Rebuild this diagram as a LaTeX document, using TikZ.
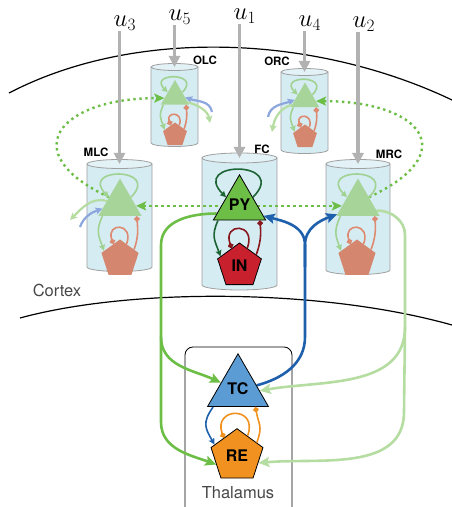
\documentclass[tikz,border=0pt]{standalone}
\usepackage[no-math]{fontspec}
\newfontfamily\hel{TeX Gyre Heros}
\usetikzlibrary{shapes.geometric, arrows.meta, calc, positioning}
\usepackage{xcolor}
\definecolor{colFill}{RGB}{214,236,243}
\definecolor{colTop}{RGB}{226,242,247}
\definecolor{inGray}{RGB}{178,178,178}
\definecolor{pyGreen}{RGB}{108,190,70}
\definecolor{pyLight}{RGB}{166,212,153}
\definecolor{lineLight}{RGB}{181,221,162}
\definecolor{loopLight}{RGB}{160,210,145}
\definecolor{inSalmon}{RGB}{213,134,110}
\definecolor{loopSalmon}{RGB}{222,138,112}
\definecolor{inRed}{RGB}{200,32,45}
\definecolor{darkRed}{RGB}{135,25,30}
\definecolor{darkGreen}{RGB}{28,100,52}
\definecolor{tcBlue}{RGB}{92,156,212}
\definecolor{lineBlue}{RGB}{30,96,172}
\definecolor{extBlue}{RGB}{140,166,222}
\definecolor{reOrange}{RGB}{240,145,32}
\pgfdeclarelayer{bg}
\pgfdeclarelayer{wires}
\pgfsetlayers{bg,wires,main}
\tikzset{
  tipG/.tip={Stealth[length=10pt, width=9pt, inset=2pt]},
  col/.style={draw=gray!75, line width=0.8pt, fill=colFill},
  pyN/.style={regular polygon, regular polygon sides=3, inner sep=0pt,
    font=\hel\bfseries\fontsize{16}{16}\selectfont},
  inN/.style={regular polygon, regular polygon sides=5, inner sep=0pt,
    font=\hel\bfseries\fontsize{16}{16}\selectfont},
  pyD/.style={pyN, draw=black, line width=0.8pt, fill=pyGreen, minimum size=55.4pt},
  inD/.style={inN, draw=black, line width=0.8pt, fill=inRed, minimum size=46pt},
  pyL/.style={pyN, fill=pyLight, minimum size=50pt},
  inL/.style={inN, fill=inSalmon, minimum size=39pt},
  tcN/.style={pyN, draw=black, line width=0.8pt, fill=tcBlue, minimum size=70.4pt},
  reN/.style={inN, draw=black, line width=0.8pt, fill=reOrange, minimum size=54.6pt},
  collab/.style={font=\hel\bfseries\fontsize{11.5}{12}\selectfont},
  regLab/.style={font=\hel\fontsize{16.5}{18}\selectfont, text=black!72},
  ulab/.style={font=\fontsize{25}{27}\selectfont, inner sep=0.5pt, anchor=base west},
  arrIn/.style={-{Triangle[length=11pt, width=11pt]}, draw=inGray, line width=3.2pt},
  big/.style={-{Stealth[length=11pt, width=10pt, inset=2pt]}, line width=2.6pt},
  arrG/.style={big, draw=pyGreen},
  arrLG/.style={big, draw=lineLight},
  arrB/.style={big, draw=lineBlue},
  dotG/.style={draw=pyGreen, line width=2.4pt, dash pattern=on 2.4pt off 3.6pt},
  small/.style={-{Stealth[length=6pt, width=6pt, inset=1pt]}, line width=1.6pt},
  dot/.style={-{Circle[length=5.5pt]}, line width=1.6pt},
  loopDG/.style={small, draw=darkGreen},
  loopLG/.style={small, draw=loopLight},
  loopB/.style={small, draw=lineBlue},
  loopDR/.style={dot, draw=darkRed},
  loopS/.style={dot, draw=loopSalmon},
  loopO/.style={dot, draw=reOrange},
  extB/.style={-{Stealth[length=7pt, width=7pt, inset=1.5pt]}, line width=2.2pt, draw=extBlue},
  extG/.style={-{Stealth[length=7pt, width=7pt, inset=1.5pt]}, line width=2.2pt, draw=lineLight},
}
% cylinder of a cortical column: x, top, bottom, half width, depth
\newcommand{\drawcol}[5]{%
  \draw[col] (#1-#4,#2) -- (#1-#4,#3)
    arc[start angle=180, end angle=360, x radius=#4, y radius=#5] -- (#1+#4,#2);
  \draw[col, fill=colTop] (#1,#2) ellipse[x radius=#4, y radius=#5];
}

\begin{document}
\begin{tikzpicture}[x=1pt, y=1pt]
  \useasboundingbox (0,0) rectangle (452,507);

  \begin{pgfonlayer}{bg}
    % cortex boundaries
    \draw[line width=1.2pt] (9,414) .. controls (140,482) and (320,470) .. (452,407);
    \draw[line width=1.2pt] (20,189) .. controls (130,219) and (320,219) .. (452,182);
    % thalamus box
    \draw[line width=0.8pt, rounded corners=8pt] (185,-5) -- (185,160) -- (292,160) -- (292,-5);
    % columns
    \drawcol{119.5}{343}{240}{32.5}{4.5}
    \drawcol{239.5}{349}{222}{37.5}{5}
    \drawcol{358}{343}{237}{32}{4.5}
    \drawcol{174.5}{440}{364}{23.5}{3.5}
    \drawcol{304.5}{435}{357}{23.5}{3.5}
  \end{pgfonlayer}

  \node[regLab] (ctx) at (57,217) {Cortex};
  \node[regLab] (thal) at (238,14) {Thalamus};

  % column labels
  \node[collab] (mlcLab) at (96,355) {MLC};
  \node[collab] (olcLab) at (205,447) {OLC};
  \node[collab] (fcLab) at (262,358) {FC};
  \node[collab] (orcLab) at (277,446) {ORC};
  \node[collab] (mrcLab) at (389,353) {MRC};

  % inputs
  \coordinate (mlcTop) at (119.5,343);
  \coordinate (olcTop) at (174.5,440);
  \coordinate (fcTop) at (239.5,349);
  \coordinate (orcTop) at (304.5,435);
  \coordinate (mrcTop) at (358,343);
  \node[ulab] (u3) at (113,480) {$u_3$};
  \node[ulab] (u5) at (168,486) {$u_5$};
  \node[ulab] (u1) at (233,487) {$u_1$};
  \node[ulab] (u4) at (298,480) {$u_4$};
  \node[ulab] (u2) at (352,479) {$u_2$};
  \draw[arrIn] (mlcTop |- u3.south) -- (mlcTop);
  \draw[arrIn] (olcTop |- u5.south) -- (olcTop);
  \draw[arrIn] (fcTop |- u1.south) -- (fcTop);
  \draw[arrIn] (orcTop |- u4.south) -- (orcTop);
  \draw[arrIn] (mrcTop |- u2.south) -- (mrcTop);

  % neurons
  \node[pyD] (fcPY) at (239.5,302) {PY};
  \node[inD] (fcIN) at (239.5,241) {IN};
  \node[pyL] (mlcPY) at (120,303.5) {};
  \node[inL] (mlcIN) at (120,248) {};
  \node[pyL] (mrcPY) at (358,303.5) {};
  \node[inL] (mrcIN) at (357,248) {};
  \node[pyL, minimum size=33pt] (olcPY) at (175,410.5) {};
  \node[inL, minimum size=25pt] (olcIN) at (175,372) {};
  \node[pyL, minimum size=33pt] (orcPY) at (305,408) {};
  \node[inL, minimum size=25pt] (orcIN) at (305,370) {};
  \node[tcN] (tc) at (238,118) {TC};
  \node[reN] (re) at (237,51) {RE};

  \begin{pgfonlayer}{wires}
    % cortico-cortical
    \draw[dotG, {tipG}-{tipG}] ($(mlcPY.corner 3)!0.27!(mlcPY.corner 1)$)
      -- ($(mrcPY.corner 2)!0.27!(mrcPY.corner 1)$);
    \draw[dotG, -{tipG}] (mlcPY.side 1) .. controls +(155:105) and +(180:105)
      .. ($(olcPY.corner 2)!0.27!(olcPY.corner 1)$);
    \draw[dotG, -{tipG}] (mrcPY.side 3) .. controls +(25:105) and +(0:105)
      .. ($(orcPY.corner 3)!0.25!(orcPY.corner 1)$);
    % cortex to thalamus
    \coordinate (gSplit) at (161,170);
    \draw[arrG] ($(fcPY.corner 2)!0.15!(fcPY.corner 1)$) to[out=180, in=90] (161,262)
      -- (gSplit) to[out=-90, in=155] ($(tc.corner 2)!0.45!(tc.corner 1)$);
    \draw[arrG] (gSplit) -- (161,85) to[out=-90, in=160] ($(re.corner 2)!0.55!(re.corner 3)$);
    \coordinate (lgSplit) at (405,180);
    \draw[arrLG] ($(mrcPY.corner 3)!0.15!(mrcPY.corner 1)$) to[out=0, in=90] (405,272)
      -- (lgSplit) to[out=-90, in=10] ($(tc.corner 3)!0.3!(tc.corner 1)$);
    \draw[arrLG] (lgSplit) -- (404,95) to[out=-90, in=5] ($(re.corner 5)!0.5!(re.corner 4)$);
    % thalamus to cortex
    \coordinate (bSplit) at (305,240);
    \draw[arrB] ($(tc.corner 3)!0.4!(tc.corner 1)$) to[out=15, in=-90] (305,170)
      -- (305,262) to[out=90, in=-15] ($(fcPY.corner 3)!0.1!(fcPY.corner 1)$);
    \draw[arrB] (bSplit) -- (305,262) to[out=90, in=200] ($(mrcPY.corner 2)!0.05!(mrcPY.corner 1)$);
  \end{pgfonlayer}

  % FC circuit
  \draw[loopDG] (fcPY.side 3) to[out=45, in=135, looseness=5] (fcPY.side 1);
  \draw[loopDG] ($(fcPY.corner 2)!0.1!(fcPY.corner 3)$) to[out=-115, in=110, looseness=1.2]
    ($(fcIN.corner 2)!0.15!(fcIN.corner 1)$);
  \draw[loopDR] ($(fcIN.corner 1)!0.35!(fcIN.corner 5)$) to[out=70, in=110, looseness=4.5]
    ($(fcIN.corner 1)!0.35!(fcIN.corner 2)$);
  \draw[loopDR] ($(fcIN.corner 1)!0.75!(fcIN.corner 5)$) to[out=70, in=-85]
    ($(fcPY.corner 2)!0.88!(fcPY.corner 3)$);

  % other columns
  \foreach \c in {mlc,mrc,olc,orc} {
    \draw[loopLG] (\c PY.side 3) to[out=45, in=135, looseness=5] (\c PY.side 1);
    \draw[loopLG] ($(\c PY.corner 2)!0.1!(\c PY.corner 3)$) to[out=-115, in=110, looseness=1.2]
      ($(\c IN.corner 2)!0.15!(\c IN.corner 1)$);
    \draw[loopS] ($(\c IN.corner 1)!0.35!(\c IN.corner 5)$) to[out=70, in=110, looseness=4.5]
      ($(\c IN.corner 1)!0.35!(\c IN.corner 2)$);
    \draw[loopS] ($(\c IN.corner 1)!0.75!(\c IN.corner 5)$) to[out=70, in=-85]
      ($(\c PY.corner 2)!0.88!(\c PY.corner 3)$);
  }

  % outside links
  \coordinate (mlcExtIn) at (80,280);
  \coordinate (mlcExtOut) at (70,287);
  \draw[extB] (mlcExtIn) to[out=70, in=200] ($(mlcPY.corner 2)!0.2!(mlcPY.corner 1)$);
  \draw[extG] ($(mlcPY.corner 2)!0.4!(mlcPY.corner 1)$) to[out=165, in=45] (mlcExtOut);
  \coordinate (olcExtIn) at (212,395);
  \coordinate (olcExtOut) at (210,384);
  \draw[extB] (olcExtIn) to[out=100, in=-20] ($(olcPY.corner 3)!0.3!(olcPY.corner 1)$);
  \draw[extG] ($(olcPY.corner 3)!0.1!(olcPY.corner 1)$) to[out=-15, in=100] (olcExtOut);
  \coordinate (orcExtIn) at (268,390);
  \coordinate (orcExtOut) at (272,375);
  \draw[extB] (orcExtIn) to[out=80, in=200] ($(orcPY.corner 2)!0.3!(orcPY.corner 1)$);
  \draw[extG] ($(orcPY.corner 2)!0.1!(orcPY.corner 1)$) to[out=195, in=80] (orcExtOut);

  % thalamic circuit
  \draw[loopB] ($(tc.corner 2)!0.1!(tc.corner 3)$) to[out=-125, in=120, looseness=1.3]
    ($(re.corner 2)!0.15!(re.corner 1)$);
  \draw[loopO] ($(re.corner 1)!0.4!(re.corner 5)$) to[out=70, in=110, looseness=3.5]
    ($(re.corner 1)!0.5!(re.corner 2)$);
  \draw[loopO] ($(re.corner 1)!0.75!(re.corner 5)$) to[out=70, in=-80, looseness=1.3]
    ($(tc.corner 2)!0.78!(tc.corner 3)$);
\end{tikzpicture}
\end{document}
